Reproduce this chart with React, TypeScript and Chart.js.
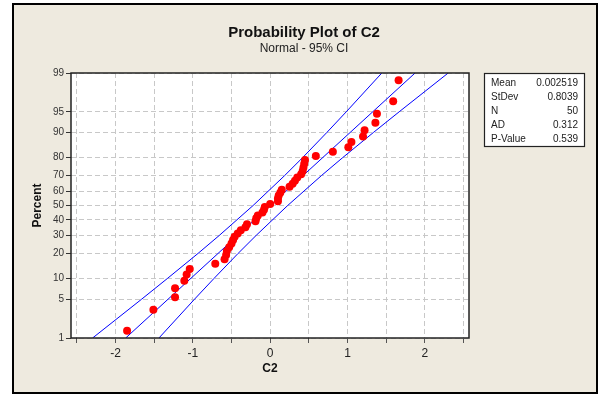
import React, { useEffect, useRef } from "react";
import { Chart, registerables } from "chart.js";

Chart.register(...registerables);

// Plotting positions (percent) of the 50 ordered observations
const pointPercents = [
  1.39, 3.37, 5.36, 7.34, 9.33, 11.31, 13.29, 15.28, 17.26, 19.25,
  21.23, 23.21, 25.2, 27.18, 29.17, 31.15, 33.13, 35.12, 37.1, 39.09,
  41.07, 43.06, 45.04, 47.02, 49.01, 50.99, 52.98, 54.96, 56.94, 58.93,
  60.91, 62.9, 64.88, 66.87, 68.85, 70.83, 72.82, 74.8, 76.79, 78.77,
  80.75, 82.74, 84.72, 86.71, 88.69, 90.67, 92.66, 94.64, 96.63, 98.61,
];

// Ordered C2 values
const c2Values = [
  -1.85, -1.51, -1.23, -1.23, -1.11, -1.08, -1.04, -0.71, -0.59, -0.57,
  -0.56, -0.53, -0.5, -0.48, -0.46, -0.42, -0.38, -0.32, -0.3, -0.19,
  -0.18, -0.16, -0.1, -0.08, -0.07, 0.0, 0.1, 0.1, 0.11, 0.13,
  0.15, 0.25, 0.29, 0.32, 0.35, 0.4, 0.42, 0.43, 0.44, 0.45,
  0.59, 0.81, 1.01, 1.05, 1.2, 1.22, 1.36, 1.38, 1.59, 1.66,
];

// Fitted line
const fitPercents = [1, 99];
const fitValues = [-1.868, 1.873];

// 95% confidence band
const bandPercents = [1, 5, 10, 20, 30, 50, 70, 80, 90, 95, 99];
const bandLeftValues = [-2.296, -1.662, -1.329, -0.933, -0.657, -0.221, 0.186, 0.42, 0.732, 0.983, 1.443];
const bandRightValues = [-1.438, -0.978, -0.727, -0.415, -0.181, 0.226, 0.662, 0.938, 1.334, 1.667, 2.301];

// Axes
const yTickPercents = [1, 5, 10, 20, 30, 40, 50, 60, 70, 80, 90, 95, 99];
const xTickValues = [-2.5, -2, -1.5, -1, -0.5, 0, 0.5, 1, 1.5, 2, 2.5];
const xTickLabels = ["", "-2", "", "-1", "", "0", "", "1", "", "2", ""];

// Statistics table
const statLabels = ["Mean", "StDev", "N", "AD", "P-Value"];
const statValues = ["0.002519", "0.8039", "50", "0.312", "0.539"];

const chartTitle = "Probability Plot of C2";
const chartSubtitle = "Normal - 95% CI";
const xTitle = "C2";
const yTitle = "Percent";

const FONT = "'Liberation Sans', Arial, sans-serif";

// inverse standard normal CDF (Acklam)
function probit(p: number): number {
  const a = [-3.969683028665376e1, 2.209460984245205e2, -2.759285104469687e2, 1.38357751867269e2, -3.066479806614716e1, 2.506628277459239];
  const b = [-5.447609879822406e1, 1.615858368580409e2, -1.556989798598866e2, 6.680131188771972e1, -1.328068155288572e1];
  const c = [-7.784894002430293e-3, -3.223964580411365e-1, -2.400758277161838, -2.549732539343734, 4.374664141464968, 2.938163982698783];
  const d = [7.784695709041462e-3, 3.224671290700398e-1, 2.445134137142996, 3.754408661907416];
  const pl = 0.02425;
  if (p < pl) {
    const q = Math.sqrt(-2 * Math.log(p));
    return (((((c[0] * q + c[1]) * q + c[2]) * q + c[3]) * q + c[4]) * q + c[5]) /
      ((((d[0] * q + d[1]) * q + d[2]) * q + d[3]) * q + 1);
  }
  if (p > 1 - pl) {
    const q = Math.sqrt(-2 * Math.log(1 - p));
    return -(((((c[0] * q + c[1]) * q + c[2]) * q + c[3]) * q + c[4]) * q + c[5]) /
      ((((d[0] * q + d[1]) * q + d[2]) * q + d[3]) * q + 1);
  }
  const q = p - 0.5;
  const r = q * q;
  return (((((a[0] * r + a[1]) * r + a[2]) * r + a[3]) * r + a[4]) * r + a[5]) * q /
    (((((b[0] * r + b[1]) * r + b[2]) * r + b[3]) * r + b[4]) * r + 1);
}

const toPts = (xs: number[], ps: number[]) => xs.map((x, i) => ({ x, y: probit(ps[i] / 100) }));

const decorPlugin = {
  id: "decor",
  beforeDraw(chart: any) {
    const { ctx, width, height, chartArea } = chart;
    ctx.save();
    ctx.fillStyle = "#ffffff";
    ctx.fillRect(0, 0, width, height);
    ctx.fillStyle = "#eeeadf";
    ctx.fillRect(13, 4, 584, 389);
    ctx.strokeStyle = "#000000";
    ctx.lineWidth = 2;
    ctx.strokeRect(13, 4, 584, 389);
    ctx.fillStyle = "#ffffff";
    ctx.fillRect(chartArea.left, chartArea.top, chartArea.right - chartArea.left, chartArea.bottom - chartArea.top);
    ctx.restore();
  },
  afterDraw(chart: any) {
    const { ctx, chartArea } = chart;
    ctx.save();
    ctx.strokeStyle = "#222222";
    ctx.lineWidth = 1.5;
    ctx.strokeRect(chartArea.left, chartArea.top, chartArea.right - chartArea.left, chartArea.bottom - chartArea.top);

    ctx.fillStyle = "#111111";
    ctx.textAlign = "center";
    ctx.textBaseline = "middle";
    ctx.font = `bold 15px ${FONT}`;
    ctx.fillText(chartTitle, 304, 33);
    ctx.font = `12px ${FONT}`;
    ctx.fillStyle = "#222222";
    ctx.fillText(chartSubtitle, 304, 49);

    ctx.fillStyle = "#111111";
    ctx.font = `bold 12px ${FONT}`;
    ctx.fillText(xTitle, (chartArea.left + chartArea.right) / 2, 369);
    ctx.save();
    ctx.translate(38, (chartArea.top + chartArea.bottom) / 2);
    ctx.rotate(-Math.PI / 2);
    ctx.fillText(yTitle, 0, 0);
    ctx.restore();

    // stats box
    const bx = 484.5, by = 73.5, bw = 100, bh = 73;
    ctx.fillStyle = "#ffffff";
    ctx.fillRect(bx, by, bw, bh);
    ctx.strokeStyle = "#222222";
    ctx.lineWidth = 1.2;
    ctx.strokeRect(bx, by, bw, bh);
    ctx.font = `10px ${FONT}`;
    ctx.fillStyle = "#222222";
    statLabels.forEach((lab, i) => {
      const yy = 83 + i * 14;
      ctx.textAlign = "left";
      ctx.fillText(lab, 491, yy);
      ctx.textAlign = "right";
      ctx.fillText(statValues[i], 578, yy);
    });
    ctx.restore();
  },
};

export default function App() {
  const ref = useRef<HTMLCanvasElement | null>(null);
  useEffect(() => {
    if (!ref.current) return;
    const yMin = probit(0.01);
    const yMax = probit(0.99);
    const chart = new Chart(ref.current, {
      type: "scatter",
      data: {
        datasets: [
          {
            label: "C2",
            data: toPts(c2Values, pointPercents),
            backgroundColor: "#ff0000",
            borderColor: "#ff0000",
            borderWidth: 0,
            pointRadius: 4,
            pointHoverRadius: 4,
          },
          {
            label: "Fit",
            data: toPts(fitValues, fitPercents),
            showLine: true,
            borderColor: "#0000ff",
            borderWidth: 1,
            pointRadius: 0,
          },
          {
            label: "Lower",
            data: toPts(bandLeftValues, bandPercents),
            showLine: true,
            borderColor: "#0000ff",
            borderWidth: 1,
            pointRadius: 0,
          },
          {
            label: "Upper",
            data: toPts(bandRightValues, bandPercents),
            showLine: true,
            borderColor: "#0000ff",
            borderWidth: 1,
            pointRadius: 0,
          },
        ],
      },
      options: {
        animation: false,
        responsive: false,
        devicePixelRatio: 1,
        events: [],
        layout: { padding: { left: 0, right: 131, top: 73, bottom: 0 } },
        plugins: {
          legend: { display: false },
          tooltip: { enabled: false },
          title: { display: false },
        },
        scales: {
          x: {
            type: "linear",
            min: -2.575,
            max: 2.57,
            afterBuildTicks: (s: any) => {
              s.ticks = xTickValues.map((v) => ({ value: v }));
            },
            afterFit: (s: any) => {
              s.height = 58;
            },
            ticks: {
              callback: (_v: any, i: number) => xTickLabels[i],
              font: { family: FONT, size: 12 },
              color: "#222222",
              padding: 3,
              maxRotation: 0,
              autoSkip: false,
            },
            grid: {
              color: "#c8c8c8",
              lineWidth: 1,
              drawTicks: true,
              tickLength: 5,
              tickColor: "#555555",
              tickBorderDash: [],
            },
            border: { display: false, dash: [5, 3] },
          },
          y: {
            type: "linear",
            min: yMin,
            max: yMax,
            afterBuildTicks: (s: any) => {
              s.ticks = yTickPercents.map((p) => ({ value: probit(p / 100) }));
            },
            afterFit: (s: any) => {
              s.width = 71;
            },
            ticks: {
              callback: (_v: any, i: number) => String(yTickPercents[i]),
              font: { family: FONT, size: 10 },
              color: "#333333",
              padding: 2,
              autoSkip: false,
            },
            grid: {
              color: "#c8c8c8",
              lineWidth: 1,
              drawTicks: true,
              tickLength: 5,
              tickColor: "#333333",
              tickBorderDash: [],
            },
            border: { display: false, dash: [5, 3] },
          },
        },
      },
      plugins: [decorPlugin],
    } as any);
    return () => chart.destroy();
  }, []);

  return (
    <div style={{ position: "fixed", left: 0, top: 0, width: 600, height: 396 }}>
      <canvas ref={ref} width={600} height={396} style={{ display: "block", width: 600, height: 396 }} />
    </div>
  );
}
